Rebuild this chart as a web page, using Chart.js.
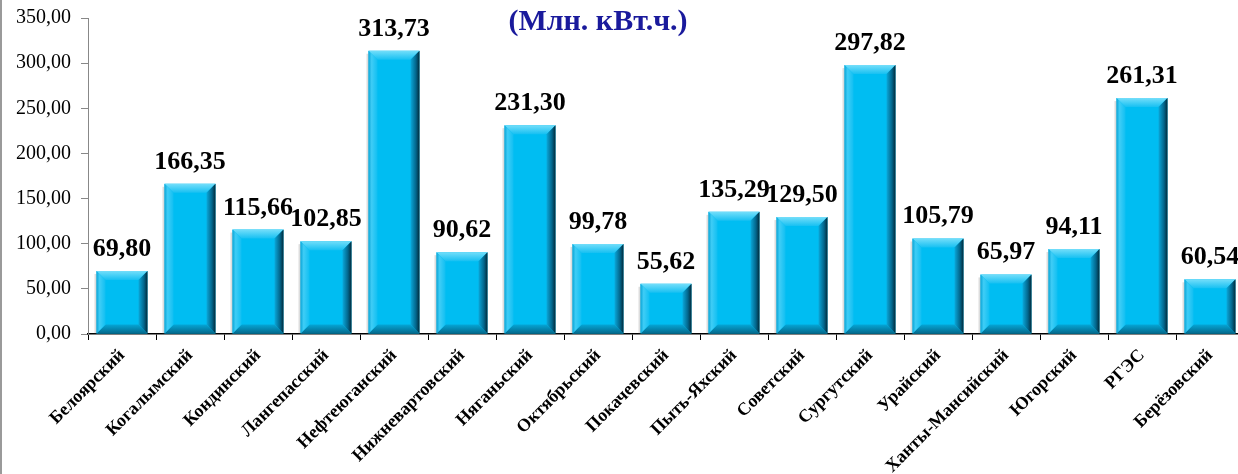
<!DOCTYPE html>
<html>
<head>
<meta charset="utf-8">
<script src="https://cdn.jsdelivr.net/npm/chart.js@4/dist/chart.umd.min.js"></script>
<style>
  html, body { margin: 0; padding: 0; overflow: hidden; background: #fff; }
  #wrap { position: absolute; left: 0; top: 0; width: 1250px; height: 474px; }
  #frame { position: absolute; left: 0; top: 0; width: 2px; height: 474px; background: #9a9a9a; z-index: 2; }
</style>
</head>
<body>
<div id="frame"></div>
<div id="wrap"><canvas id="c" width="1250" height="474"></canvas></div>
<script>
const categories = ["Белоярский","Когалымский","Кондинский","Лангепасский","Нефтеюганский","Нижневартовский","Няганьский","Октябрьский","Покачевский","Пыть-Яхский","Советский","Сургутский","Урайский","Ханты-Мансийский","Югорский","РГЭС","Берёзовский"];
const values = [69.80,166.35,115.66,102.85,313.73,90.62,231.30,99.78,55.62,135.29,129.50,297.82,105.79,65.97,94.11,261.31,60.54];
const yTicks = [0,50,100,150,200,250,300,350];
const titleText = "(Млн. кВт.ч.)";

const fmt = v => Number(v).toFixed(2).replace('.', ',');
const SERIF = '"Liberation Serif", "Times New Roman", serif';

const bevelPlugin = {
  id: 'bevel',
  afterDatasetsDraw(chart) {
    const ctx = chart.ctx;
    const meta = chart.getDatasetMeta(0);
    meta.data.forEach(bar => {
      const p = bar.getProps(['x','y','base','width'], true);
      const l = p.x - p.width/2, r = p.x + p.width/2, t = p.y, b = p.base;
      const s = 9;
      ctx.save();
      // top bevel
      let g = ctx.createLinearGradient(0, t, 0, t + s);
      g.addColorStop(0, '#74defa'); g.addColorStop(1, '#16c0f2');
      ctx.fillStyle = g;
      ctx.beginPath(); ctx.moveTo(l, t); ctx.lineTo(r, t); ctx.lineTo(r - s, t + s); ctx.lineTo(l + s, t + s); ctx.closePath(); ctx.fill();
      // bottom bevel
      g = ctx.createLinearGradient(0, b - s, 0, b);
      g.addColorStop(0, '#05a6d6'); g.addColorStop(1, '#04698c');
      ctx.fillStyle = g;
      ctx.beginPath(); ctx.moveTo(l, b); ctx.lineTo(r, b); ctx.lineTo(r - s, b - s); ctx.lineTo(l + s, b - s); ctx.closePath(); ctx.fill();
      // left bevel
      g = ctx.createLinearGradient(l, 0, l + s, 0);
      g.addColorStop(0, '#0aa6d8'); g.addColorStop(0.35, '#3fcdf6'); g.addColorStop(1, '#10bff2');
      ctx.fillStyle = g;
      ctx.beginPath(); ctx.moveTo(l, t); ctx.lineTo(l + s, t + s); ctx.lineTo(l + s, b - s); ctx.lineTo(l, b); ctx.closePath(); ctx.fill();
      // right bevel
      g = ctx.createLinearGradient(r - s, 0, r, 0);
      g.addColorStop(0, '#0aa8da'); g.addColorStop(0.6, '#03668c'); g.addColorStop(1, '#012a3a');
      ctx.fillStyle = g;
      ctx.beginPath(); ctx.moveTo(r, t); ctx.lineTo(r - s, t + s); ctx.lineTo(r - s, b - s); ctx.lineTo(r, b); ctx.closePath(); ctx.fill();
      // faint shadow strip on the left
      ctx.fillStyle = 'rgba(120,120,120,0.25)';
      ctx.fillRect(l - 2, t + 3, 2, b - t - 3);
      ctx.restore();
    });
  }
};

const labelPlugin = {
  id: 'valueLabels',
  afterDatasetsDraw(chart) {
    const ctx = chart.ctx;
    const meta = chart.getDatasetMeta(0);
    ctx.save();
    ctx.font = 'bold 26px ' + SERIF;
    ctx.fillStyle = '#000';
    ctx.textAlign = 'center';
    ctx.textBaseline = 'alphabetic';
    meta.data.forEach((bar, i) => {
      ctx.fillText(fmt(values[i]), bar.x, bar.y - 15);
    });
    ctx.restore();
  }
};

const titlePlugin = {
  id: 'titleText',
  afterDraw(chart) {
    const ctx = chart.ctx;
    ctx.save();
    ctx.font = 'bold 30px ' + SERIF;
    ctx.fillStyle = '#1a1a9c';
    ctx.textAlign = 'center';
    ctx.textBaseline = 'middle';
    ctx.fillText(titleText, 598, 22);
    ctx.restore();
  }
};

new Chart(document.getElementById('c'), {
  type: 'bar',
  data: {
    labels: categories,
    datasets: [{
      data: values,
      backgroundColor: '#00bdf2',
      borderWidth: 0,
      categoryPercentage: 1.0,
      barPercentage: 0.75
    }]
  },
  options: {
    responsive: false,
    animation: false,
    events: [],
    layout: { padding: { top: 0, right: 6, left: 0, bottom: 0 } },
    plugins: { legend: { display: false }, tooltip: { enabled: false }, title: { display: false } },
    scales: {
      x: {
        grid: { display: true, drawOnChartArea: false, drawTicks: true, tickLength: 6, color: '#000', offset: true },
        border: { display: true, color: '#000', width: 1.5 },
        ticks: {
          color: '#000',
          font: { family: SERIF, size: 18, weight: 'bold' },
          minRotation: 45, maxRotation: 45, autoSkip: false, padding: 5
        },
        afterFit(scale) { scale.height = 140; }
      },
      y: {
        min: 0, max: 350,
        afterBuildTicks(scale) { scale.ticks = yTicks.map(v => ({ value: v })); },
        grid: { display: true, drawOnChartArea: false, drawTicks: true, tickLength: 7, color: '#888' },
        border: { display: true, color: '#888', width: 1 },
        ticks: {
          color: '#000',
          font: { family: SERIF, size: 20, lineHeight: 0.8 },
          padding: 10,
          callback: v => fmt(v)
        },
        afterFit(scale) { scale.width = 88; }
      }
    }
  },
  plugins: [bevelPlugin, labelPlugin, titlePlugin]
});
</script>
</body>
</html>
